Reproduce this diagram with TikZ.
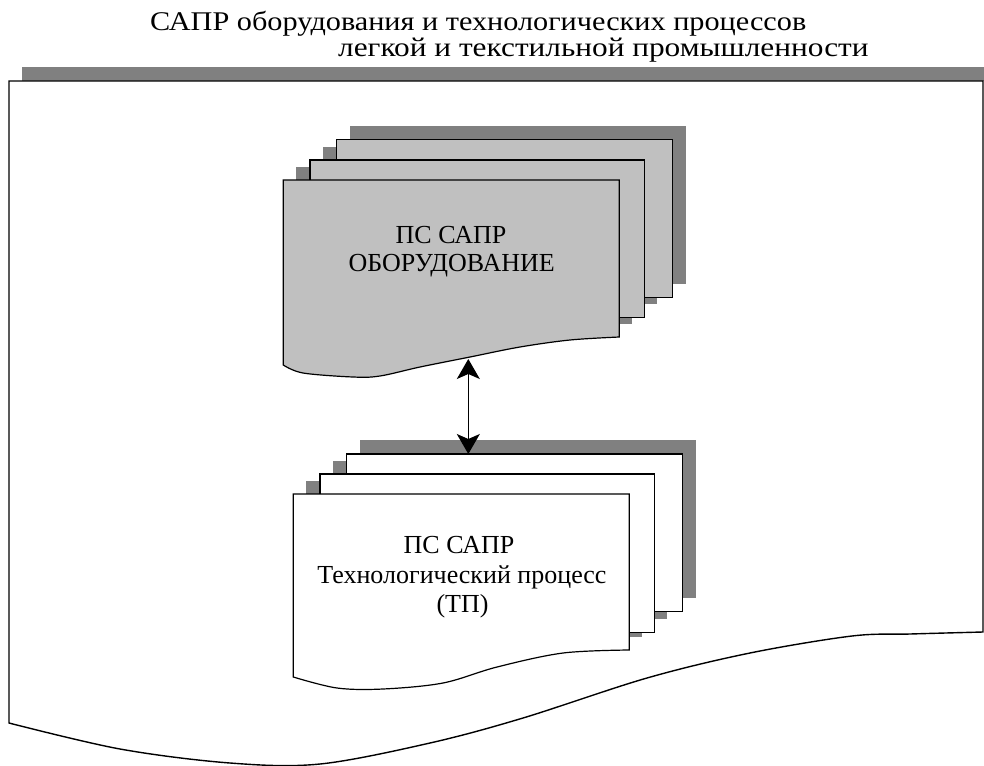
\documentclass[tikz,border=0pt]{standalone}
\usepackage{fontspec}
\setmainfont{Liberation Serif}
\newfontfamily\titlefontA[FakeStretch=1.12]{Liberation Serif}
\newfontfamily\titlefontB[FakeStretch=1.16]{Liberation Serif}
\usetikzlibrary{arrows.meta}
\definecolor{shadowgray}{RGB}{128,128,128}
\definecolor{docgray}{RGB}{192,192,192}
\begin{document}
\begin{tikzpicture}[x=1pt,y=-1pt,line join=miter,
  bigdoc/.style={draw=black,line width=1.4pt,fill=white},
  docline/.style={draw=black,line width=1.2pt},
  shadowbox/.style={fill=shadowgray},
  titletext/.style={inner sep=0pt,anchor=base west},
  doctext/.style={font=\fontsize{26}{26}\selectfont,inner sep=0pt,anchor=base},
  biarrow/.style={line width=1.2pt,{Stealth[length=20pt,width=23pt,inset=5pt]}-{Stealth[length=20pt,width=23pt,inset=5pt]}}]
\useasboundingbox (0,0) rectangle (984,765);
\fill[white] (0,0) rectangle (984,765);

% title
\node[titletext,font=\titlefontA\fontsize{27}{27}\selectfont] (title1) at (150,31) {САПР оборудования и технологических процессов};
\node[titletext,font=\titlefontB\fontsize{27}{27}\selectfont] (title2) at (338,57) {легкой и текстильной промышленности};

% big document
\fill[shadowgray] (22,67.5) rectangle (996,81);
\path[bigdoc] (9,81) -- (983,81) -- (983,632)
  -- plot[smooth,tension=0.55] coordinates {(983,632) (910,634) (852,636) (750,653) (647,678) (523,718) (430,743) (320,764) (230,763) (120,749) (9,723)}
  -- cycle;

% top stack shadows
\fill[shadowgray] (349.7,125.8) rectangle (685.7,283.8);
\fill[shadowgray] (323,146.5) rectangle (657.3,304.2);
\fill[shadowgray] (296.3,166.5) rectangle (632.3,323.5);
% top stack documents
\path[docline,fill=docgray] (336.7,139.3) rectangle (672.3,297.3);
\path[docline,fill=docgray] (310,160) rectangle (644.3,317.7);
\path[docline,fill=docgray] (283.3,180) -- (619.3,180) -- (619.3,337)
  -- plot[smooth,tension=0.55] coordinates {(619.3,337) (570,340) (520,347) (470,357) (420,367) (380,376) (353,377) (303,373) (283.3,365)}
  -- cycle;
\node[doctext] (eq1) at (451,243) {ПС САПР};
\node[doctext] (eq2) at (451.7,271.7) {ОБОРУДОВАНИЕ};

% bottom stack shadows
\fill[shadowgray] (360,440) rectangle (696,597.7);
\fill[shadowgray] (333,460.5) rectangle (667.3,618.8);
\fill[shadowgray] (306.3,480.5) rectangle (642.3,636.5);
% bottom stack documents
\path[docline,fill=white] (346.7,454) rectangle (682.7,611.7);
\path[docline,fill=white] (320,474) rectangle (654.3,632.3);
\path[docline,fill=white] (293.3,494) -- (629.3,494) -- (629.3,650)
  -- plot[smooth,tension=0.55] coordinates {(629.3,650) (563,653) (497,667) (443,683) (383,689) (337,688) (293.3,677)}
  -- cycle;
\node[doctext] (tp1) at (459,553.3) {ПС САПР};
\node[doctext] (tp2) at (462,583.3) {Технологический процесс};
\node[doctext] (tp3) at (462.5,612.5) {(ТП)};

% connector
\coordinate (arrTop) at (468.3,359);
\coordinate (arrBot) at (468.3,454);
\draw[biarrow] (arrTop) -- (arrBot);
\end{tikzpicture}
\end{document}
